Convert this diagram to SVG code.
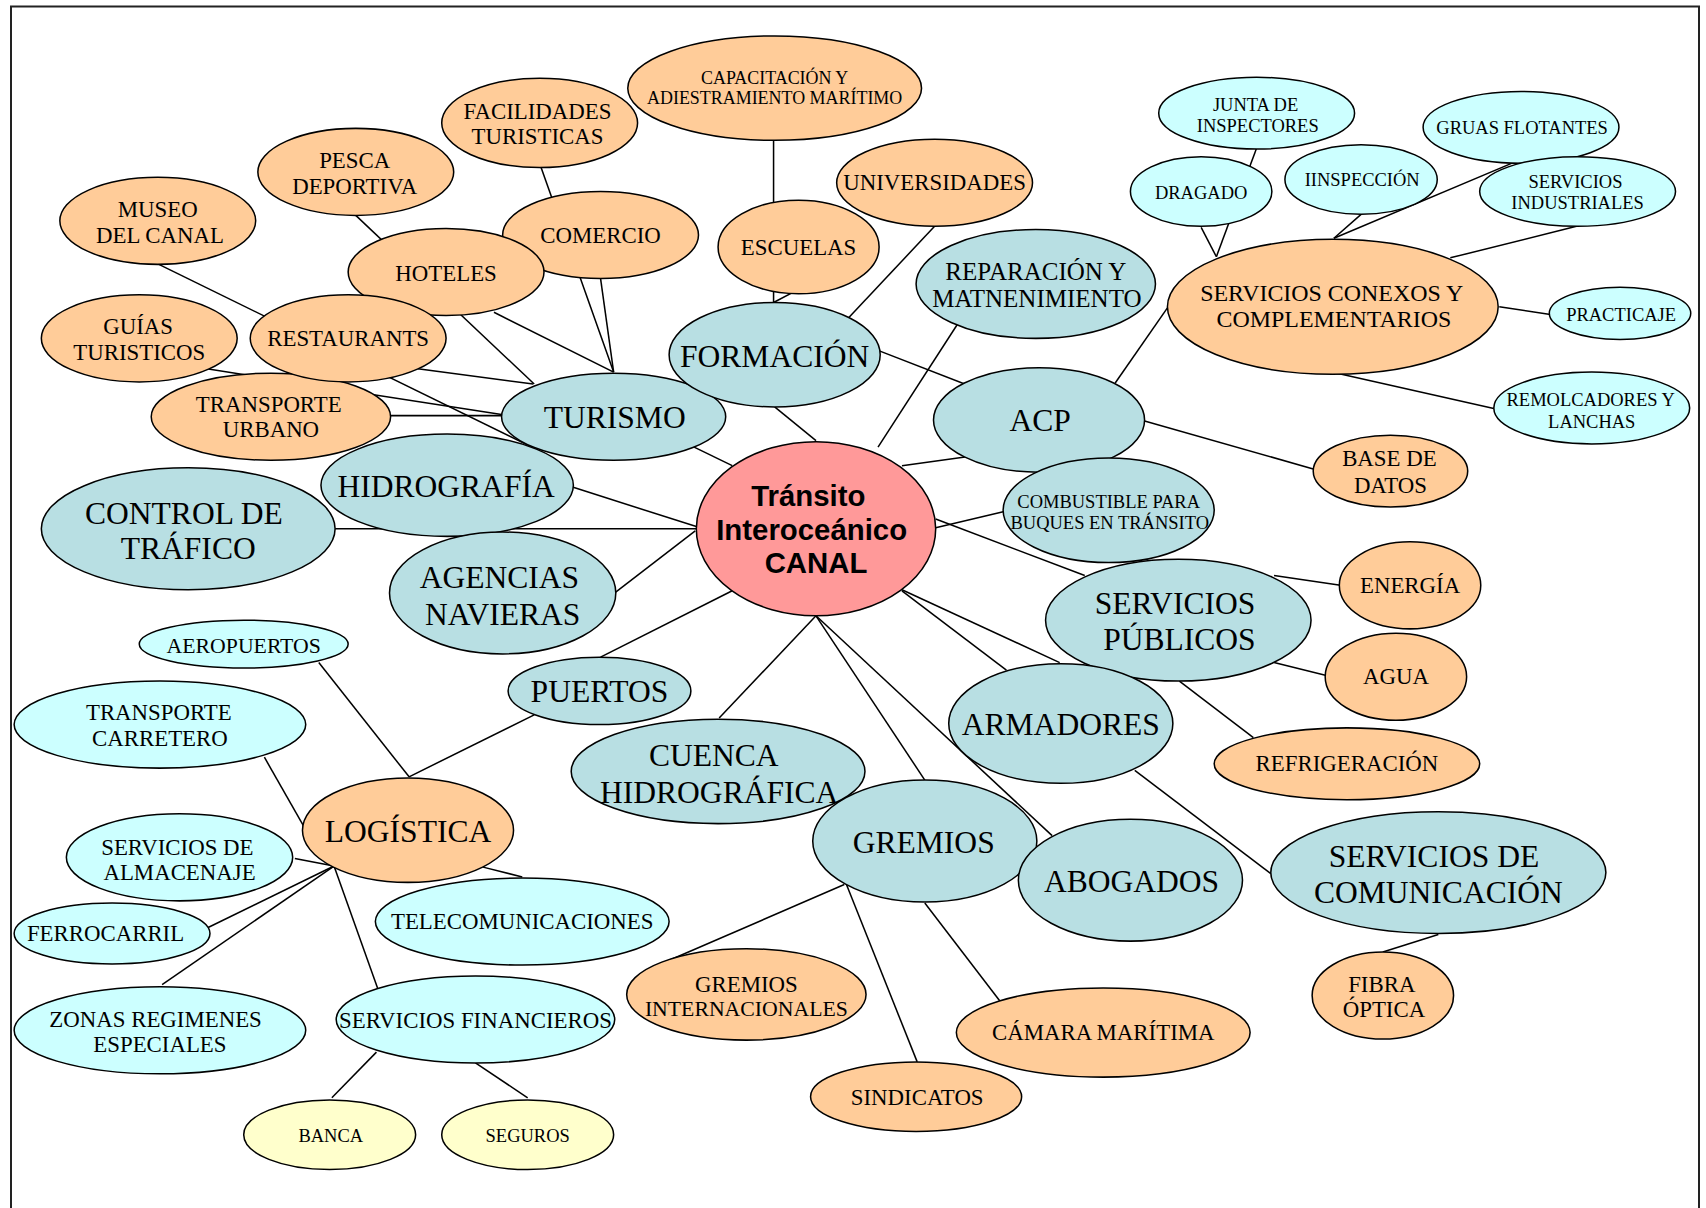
<svg xmlns="http://www.w3.org/2000/svg" width="1706" height="1208" viewBox="0 0 1706 1208">
<style>
.e{stroke:#000;stroke-width:1.4;fill:none}
.o{fill:#FFCC99;stroke:#000;stroke-width:1.4}
.b{fill:#B8DFE3;stroke:#000;stroke-width:1.4}
.c{fill:#CCFFFF;stroke:#000;stroke-width:1.4}
.y{fill:#FFFFCC;stroke:#000;stroke-width:1.4}
.n{fill:#FF9999;stroke:#000;stroke-width:1.4}
text{font-family:"Liberation Serif","Times New Roman",serif;text-anchor:middle;fill:#000}
.t29{font-size:29px}
.t23{font-size:23px}
.t22{font-size:22px}
.t21{font-size:21px}
.t20{font-size:20px}
.t17{font-size:17px}
.t16{font-size:16.5px}
.tc{font-family:"Liberation Sans",Arial,sans-serif;font-weight:bold;font-size:27px}
</style>
<rect x="11" y="6.5" width="1688" height="1230" fill="#fff" stroke="#222" stroke-width="2"/>
<g transform="scale(1.088)">
<g id="connectors">
<line class="e" x1="712" y1="374" x2="750" y2="405"/>
<line class="e" x1="880" y1="298" x2="807" y2="411"/>
<line class="e" x1="887" y1="420" x2="829" y2="428"/>
<line class="e" x1="859" y1="208" x2="780" y2="292"/>
<line class="e" x1="711" y1="128" x2="711" y2="278"/>
<line class="e" x1="734" y1="266" x2="711" y2="278"/>
<line class="e" x1="807" y1="322" x2="892" y2="355"/>
<line class="e" x1="1025" y1="352" x2="1073" y2="283"/>
<line class="e" x1="1052" y1="387" x2="1207" y2="431"/>
<line class="e" x1="860" y1="485" x2="924" y2="470"/>
<line class="e" x1="860" y1="477" x2="997" y2="529"/>
<line class="e" x1="829" y1="542" x2="974" y2="609"/>
<line class="e" x1="829" y1="543" x2="925" y2="616"/>
<line class="e" x1="750" y1="566" x2="967" y2="768"/>
<line class="e" x1="750" y1="566" x2="850" y2="717"/>
<line class="e" x1="750" y1="566" x2="661" y2="660"/>
<line class="e" x1="673" y1="543" x2="552" y2="604"/>
<line class="e" x1="639" y1="488" x2="565" y2="545"/>
<line class="e" x1="308" y1="486" x2="641" y2="486"/>
<line class="e" x1="524" y1="447" x2="640" y2="484"/>
<line class="e" x1="638" y1="411" x2="673" y2="428"/>
<line class="e" x1="497" y1="153" x2="564" y2="342"/>
<line class="e" x1="552" y1="256" x2="564" y2="342"/>
<line class="e" x1="454" y1="287" x2="564" y2="342"/>
<line class="e" x1="327" y1="198" x2="491" y2="353"/>
<line class="e" x1="146" y1="243" x2="493" y2="413"/>
<line class="e" x1="190" y1="339" x2="461" y2="381"/>
<line class="e" x1="359" y1="382" x2="461" y2="382"/>
<line class="e" x1="384" y1="339" x2="490" y2="353"/>
<line class="e" x1="1155" y1="136" x2="1118" y2="236"/>
<line class="e" x1="1104" y1="209" x2="1118" y2="236"/>
<line class="e" x1="1251" y1="197" x2="1226" y2="219"/>
<line class="e" x1="1392" y1="149" x2="1226" y2="219"/>
<line class="e" x1="1449" y1="208" x2="1333" y2="237"/>
<line class="e" x1="1378" y1="282" x2="1425" y2="289"/>
<line class="e" x1="1229" y1="343" x2="1375" y2="376"/>
<line class="e" x1="1171" y1="529" x2="1232" y2="538"/>
<line class="e" x1="1171" y1="609" x2="1220" y2="621"/>
<line class="e" x1="1084" y1="626" x2="1152" y2="678"/>
<line class="e" x1="1043" y1="708" x2="1168" y2="803"/>
<line class="e" x1="1322" y1="859" x2="1271" y2="875"/>
<line class="e" x1="776" y1="813" x2="612" y2="884"/>
<line class="e" x1="778" y1="813" x2="843" y2="976"/>
<line class="e" x1="850" y1="830" x2="919" y2="920"/>
<line class="e" x1="491" y1="657" x2="376" y2="714"/>
<line class="e" x1="293" y1="609" x2="376" y2="714"/>
<line class="e" x1="243" y1="696" x2="280" y2="761"/>
<line class="e" x1="271" y1="789" x2="307" y2="796"/>
<line class="e" x1="180" y1="858" x2="307" y2="796"/>
<line class="e" x1="149" y1="905" x2="307" y2="796"/>
<line class="e" x1="307" y1="796" x2="347" y2="908"/>
<line class="e" x1="444" y1="797" x2="480" y2="806"/>
<line class="e" x1="346" y1="967" x2="305" y2="1009"/>
<line class="e" x1="437" y1="977" x2="485" y2="1009"/>
</g>

<g id="capacitacion"><ellipse class="o" cx="712" cy="81" rx="135" ry="48"/><text class="t16" x="712" y="77">CAPACITACIÓN Y</text><text class="t16" x="712" y="96">ADIESTRAMIENTO MARÍTIMO</text></g>
<g id="facilidades"><ellipse class="o" cx="496" cy="113" rx="90" ry="41"/><text class="t21" x="494" y="109">FACILIDADES</text><text class="t21" x="494" y="132">TURISTICAS</text></g>
<g id="pesca"><ellipse class="o" cx="327" cy="158" rx="90" ry="40"/><text class="t21" x="326" y="154">PESCA</text><text class="t21" x="326" y="178">DEPORTIVA</text></g>
<g id="museo"><ellipse class="o" cx="145" cy="203" rx="90" ry="40"/><text class="t21" x="145" y="199">MUSEO</text><text class="t21" x="147" y="223">DEL CANAL</text></g>
<g id="comercio"><ellipse class="o" cx="552" cy="216" rx="90" ry="40"/><text class="t21" x="552" y="223">COMERCIO</text></g>
<g id="hoteles"><ellipse class="o" cx="410" cy="250" rx="90" ry="40"/><text class="t21" x="410" y="258">HOTELES</text></g>
<g id="universidades"><ellipse class="o" cx="859" cy="168" rx="90" ry="40"/><text class="t21" x="859" y="175">UNIVERSIDADES</text></g>
<g id="escuelas"><ellipse class="o" cx="734" cy="227" rx="74" ry="43"/><text class="t21" x="734" y="234">ESCUELAS</text></g>
<g id="guias"><ellipse class="o" cx="128" cy="311" rx="90" ry="40"/><text class="t21" x="127" y="307">GUÍAS</text><text class="t21" x="128" y="331">TURISTICOS</text></g>
<g id="transporte-urbano"><ellipse class="o" cx="249" cy="383" rx="110" ry="40"/><text class="t21" x="247" y="379">TRANSPORTE</text><text class="t21" x="249" y="402">URBANO</text></g>
<g id="restaurants"><ellipse class="o" cx="320" cy="311" rx="90" ry="40"/><text class="t21" x="320" y="318">RESTAURANTS</text></g>

<g id="turismo"><ellipse class="b" cx="564" cy="383" rx="103" ry="40"/><text class="t29" x="565" y="393">TURISMO</text></g>
<g id="formacion"><ellipse class="b" cx="712" cy="326" rx="97" ry="48"/><text class="t29" x="712" y="337">FORMACIÓN</text></g>
<g id="reparacion"><ellipse class="b" cx="952" cy="261" rx="110" ry="50"/><text class="t23" x="952" y="257">REPARACIÓN Y</text><text class="t23" x="953" y="282">MATNENIMIENTO</text></g>
<g id="control"><ellipse class="b" cx="173" cy="486" rx="135" ry="56"/><text class="t29" x="169" y="482">CONTROL DE</text><text class="t29" x="173" y="514">TRÁFICO</text></g>
<g id="hidrografia"><ellipse class="b" cx="411" cy="446" rx="116" ry="47"/><text class="t29" x="410" y="457">HIDROGRAFÍA</text></g>
<g id="agencias"><ellipse class="b" cx="462" cy="545" rx="104" ry="56"/><text class="t29" x="459" y="540">AGENCIAS</text><text class="t29" x="462" y="574">NAVIERAS</text></g>
<g id="acp"><ellipse class="b" cx="955" cy="386" rx="97" ry="48"/><text class="t29" x="956" y="396">ACP</text></g>
<g id="combustible"><ellipse class="b" cx="1019" cy="469" rx="97" ry="48"/><text class="t17" x="1019" y="467">COMBUSTIBLE PARA</text><text class="t17" x="1020" y="486">BUQUES EN TRÁNSITO</text></g>
<g id="servicios-publicos"><ellipse class="b" cx="1083" cy="570" rx="122" ry="56"/><text class="t29" x="1080" y="564">SERVICIOS</text><text class="t29" x="1084" y="597">PÚBLICOS</text></g>
<g id="armadores"><ellipse class="b" cx="975" cy="665" rx="103" ry="55"/><text class="t29" x="975" y="676">ARMADORES</text></g>
<g id="puertos"><ellipse class="b" cx="551" cy="635" rx="84" ry="31"/><text class="t29" x="551" y="645">PUERTOS</text></g>
<g id="cuenca"><ellipse class="b" cx="660" cy="709" rx="135" ry="48"/><text class="t29" x="656" y="704">CUENCA</text><text class="t29" x="661" y="738">HIDROGRÁFICA</text></g>
<g id="gremios"><ellipse class="b" cx="850" cy="773" rx="103" ry="56"/><text class="t29" x="849" y="784">GREMIOS</text></g>
<g id="abogados"><ellipse class="b" cx="1039" cy="809" rx="103" ry="56"/><text class="t29" x="1040" y="820">ABOGADOS</text></g>
<g id="comunicacion"><ellipse class="b" cx="1322" cy="802" rx="154" ry="56"/><text class="t29" x="1318" y="797">SERVICIOS DE</text><text class="t29" x="1322" y="830">COMUNICACIÓN</text></g>

<g id="conexos"><ellipse class="o" cx="1225" cy="282" rx="152" ry="62"/><text class="t22" x="1224" y="277">SERVICIOS CONEXOS Y</text><text class="t22" x="1226" y="301">COMPLEMENTARIOS</text></g>
<g id="base-datos"><ellipse class="o" cx="1278" cy="433" rx="71" ry="33"/><text class="t21" x="1277" y="428">BASE DE</text><text class="t21" x="1278" y="453">DATOS</text></g>
<g id="energia"><ellipse class="o" cx="1296" cy="538" rx="65" ry="40"/><text class="t21" x="1296" y="545">ENERGÍA</text></g>
<g id="agua"><ellipse class="o" cx="1283" cy="622" rx="65" ry="40"/><text class="t21" x="1283" y="629">AGUA</text></g>
<g id="refrigeracion"><ellipse class="o" cx="1238" cy="702" rx="122" ry="33"/><text class="t21" x="1238" y="709">REFRIGERACIÓN</text></g>
<g id="fibra"><ellipse class="o" cx="1271" cy="915" rx="65" ry="40"/><text class="t21" x="1270" y="912">FIBRA</text><text class="t21" x="1272" y="935">ÓPTICA</text></g>
<g id="gremios-int"><ellipse class="o" cx="686" cy="914" rx="110" ry="42"/><text class="t21" x="686" y="912">GREMIOS</text><text class="t20" x="686" y="934">INTERNACIONALES</text></g>
<g id="sindicatos"><ellipse class="o" cx="842" cy="1008" rx="97" ry="32"/><text class="t21" x="843" y="1016">SINDICATOS</text></g>
<g id="camara"><ellipse class="o" cx="1014" cy="949" rx="135" ry="41"/><text class="t21" x="1014" y="956">CÁMARA MARÍTIMA</text></g>

<g id="junta"><ellipse class="c" cx="1155" cy="104" rx="90" ry="33"/><text class="t17" x="1154" y="102">JUNTA DE</text><text class="t17" x="1156" y="121">INSPECTORES</text></g>
<g id="dragado"><ellipse class="c" cx="1104" cy="176" rx="65" ry="32"/><text class="t17" x="1104" y="183">DRAGADO</text></g>
<g id="inspeccion"><ellipse class="c" cx="1251" cy="165" rx="70" ry="32"/><text class="t17" x="1252" y="171">IINSPECCIÓN</text></g>
<g id="gruas"><ellipse class="c" cx="1398" cy="117" rx="90" ry="33"/><text class="t17" x="1399" y="123">GRUAS FLOTANTES</text></g>
<g id="industriales"><ellipse class="c" cx="1450" cy="176" rx="90" ry="32"/><text class="t17" x="1448" y="173">SERVICIOS</text><text class="t17" x="1450" y="192">INDUSTRIALES</text></g>
<g id="practicaje"><ellipse class="c" cx="1489" cy="288" rx="65" ry="24"/><text class="t17" x="1490" y="295">PRACTICAJE</text></g>
<g id="remolcadores"><ellipse class="c" cx="1463" cy="375" rx="90" ry="33"/><text class="t17" x="1462" y="373">REMOLCADORES Y</text><text class="t17" x="1463" y="393">LANCHAS</text></g>

<g id="logistica"><ellipse class="o" cx="375" cy="763" rx="97" ry="48"/><text class="t29" x="375" y="774">LOGÍSTICA</text></g>
<g id="aeropuertos"><ellipse class="c" cx="224" cy="592" rx="96" ry="22"/><text class="t20" x="224" y="600">AEROPUERTOS</text></g>
<g id="carretero"><ellipse class="c" cx="147" cy="666" rx="134" ry="40"/><text class="t21" x="146" y="662">TRANSPORTE</text><text class="t21" x="147" y="686">CARRETERO</text></g>
<g id="almacenaje"><ellipse class="c" cx="165" cy="788" rx="104" ry="40"/><text class="t21" x="163" y="786">SERVICIOS DE</text><text class="t21" x="165" y="809">ALMACENAJE</text></g>
<g id="ferrocarril"><ellipse class="c" cx="103" cy="858" rx="90" ry="28"/><text class="t21" x="97" y="865">FERROCARRIL</text></g>
<g id="telecom"><ellipse class="c" cx="480" cy="847" rx="135" ry="40"/><text class="t21" x="480" y="854">TELECOMUNICACIONES</text></g>
<g id="zonas"><ellipse class="c" cx="147" cy="947" rx="134" ry="40"/><text class="t21" x="143" y="944">ZONAS REGIMENES</text><text class="t21" x="147" y="967">ESPECIALES</text></g>
<g id="financieros"><ellipse class="c" cx="437" cy="937" rx="128" ry="40"/><text class="t21" x="437" y="945">SERVICIOS FINANCIEROS</text></g>
<g id="banca"><ellipse class="y" cx="303" cy="1043" rx="79" ry="32"/><text class="t17" x="304" y="1050">BANCA</text></g>
<g id="seguros"><ellipse class="y" cx="485" cy="1043" rx="79" ry="32"/><text class="t17" x="485" y="1050">SEGUROS</text></g>

<g id="canal"><ellipse class="n" cx="750" cy="486" rx="110" ry="80"/><text class="tc" x="743" y="465">Tránsito</text><text class="tc" x="746" y="496">Interoceánico</text><text class="tc" x="750" y="527">CANAL</text></g>
</g>
</svg>
